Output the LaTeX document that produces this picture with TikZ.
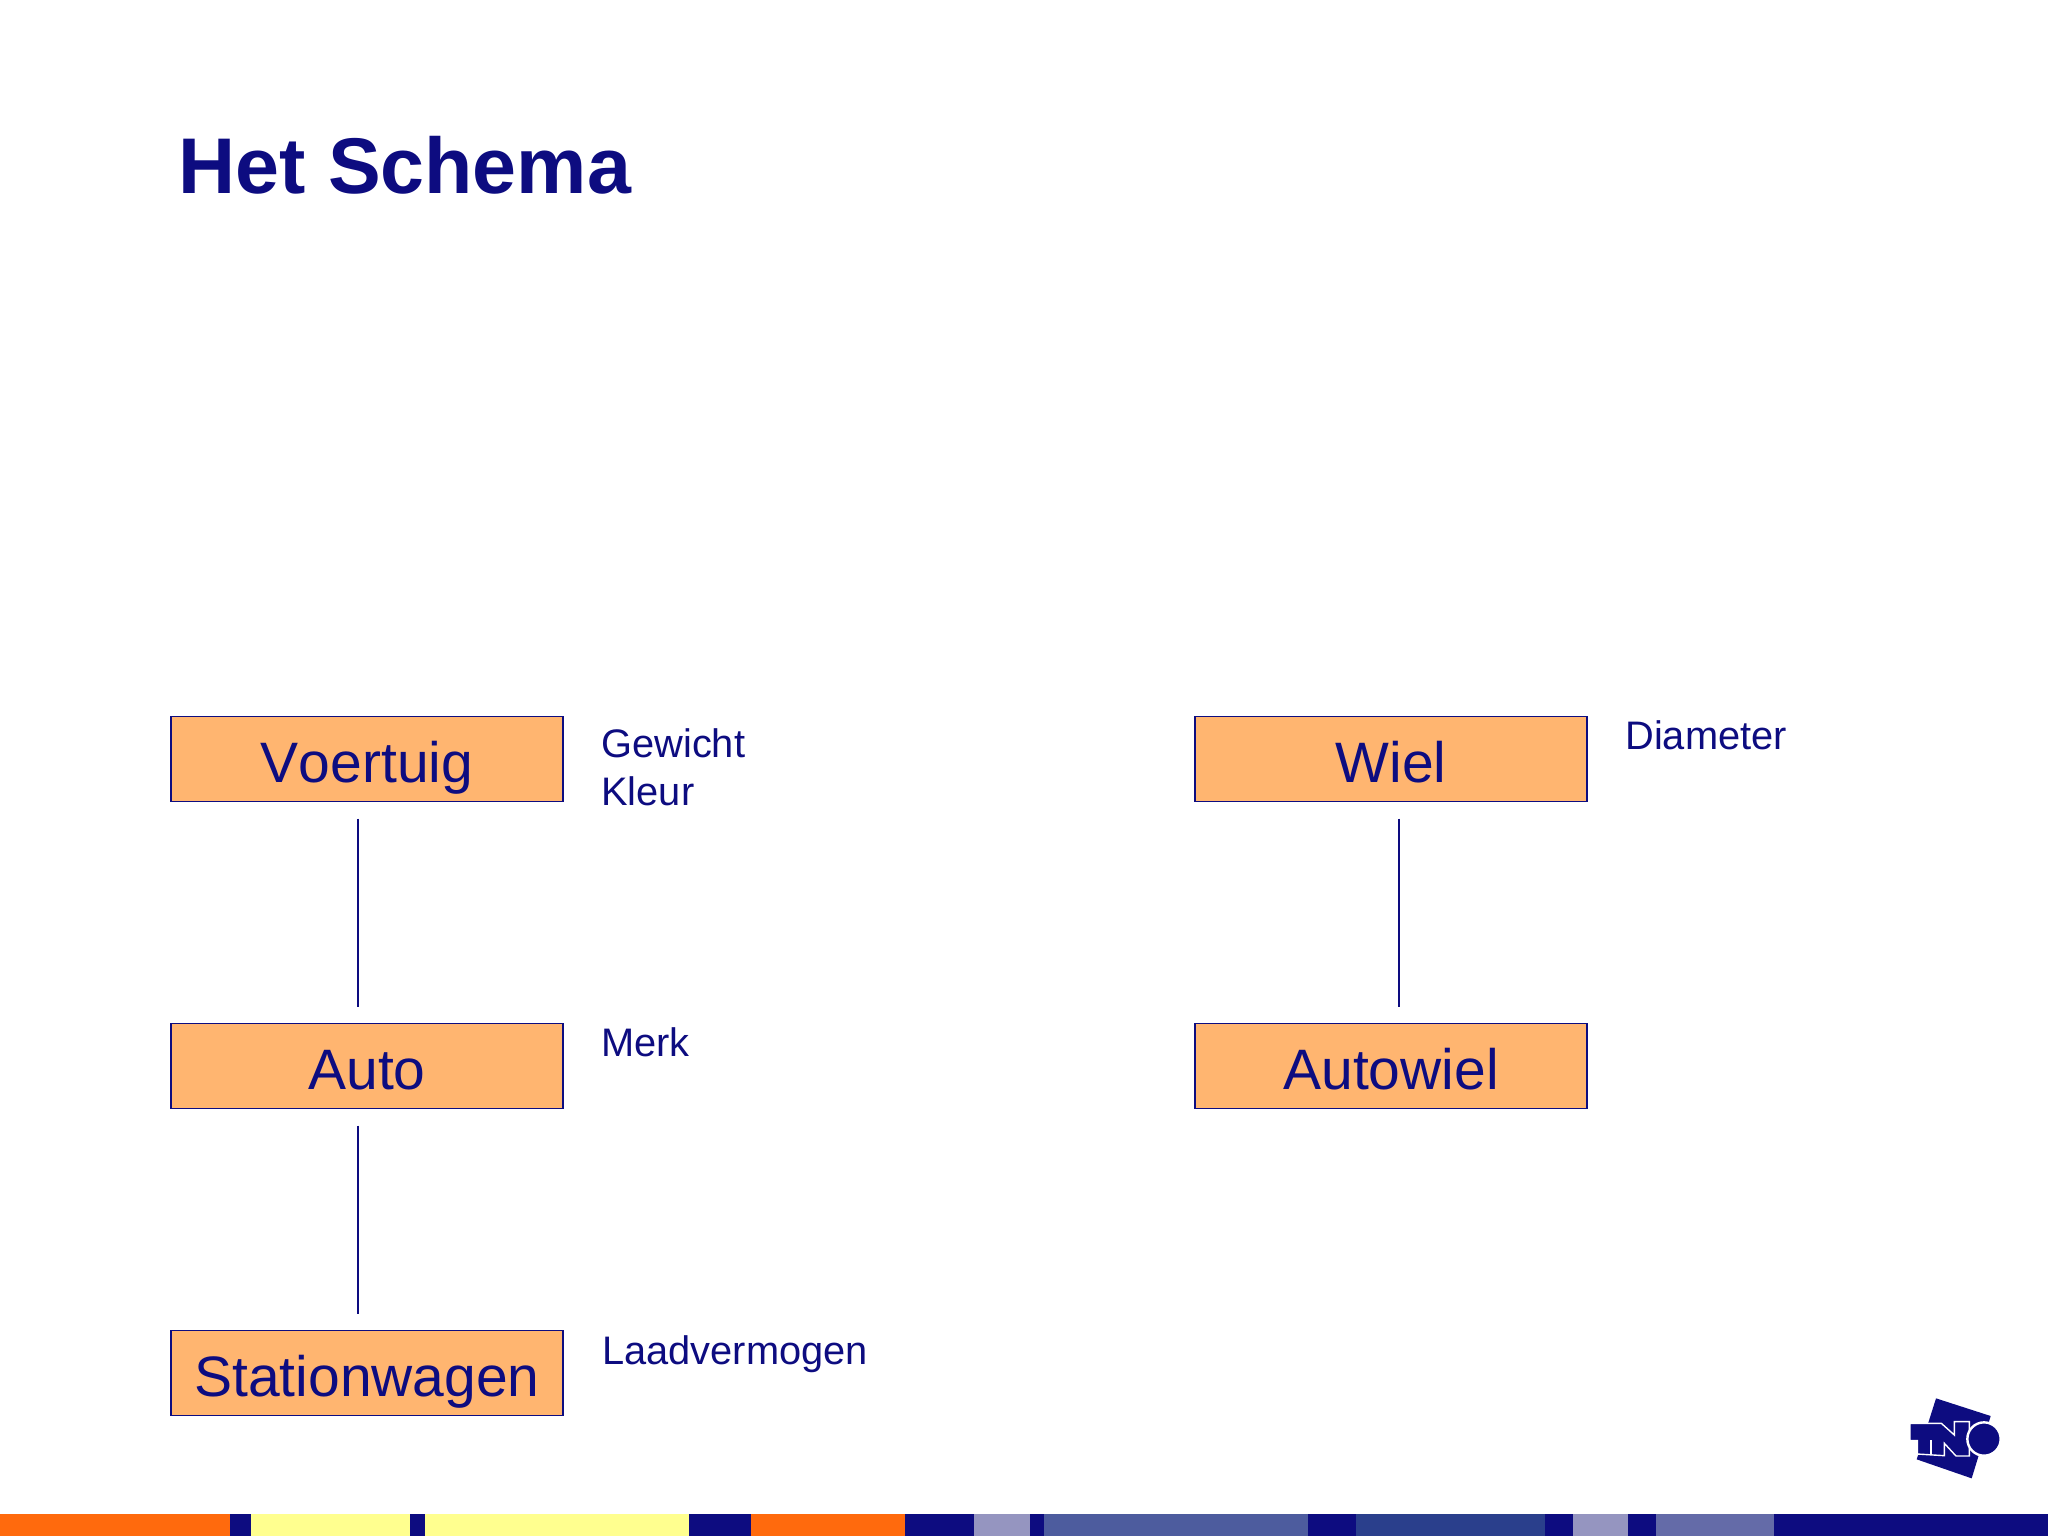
\documentclass[tikz,border=0pt]{standalone}
\usepackage{fontspec}
\setmainfont{Liberation Sans}[Kerning=Off]
\usepackage{tikz}
\usetikzlibrary{positioning}
\definecolor{tnoblauw}{HTML}{0D0C80}
\definecolor{tnooranje}{HTML}{FF6A0D}
\definecolor{tnogeel}{HTML}{FFFF8F}
\definecolor{tnolila}{HTML}{9595C0}
\definecolor{tnomid}{HTML}{4D5C9E}
\definecolor{tnodonker}{HTML}{2A3F8C}
\definecolor{tnozacht}{HTML}{646BA8}
\definecolor{klassevul}{HTML}{FFB570}

\begin{document}
\begin{tikzpicture}[x=0.5pt,y=-0.5pt,node distance=111pt,
  klasse/.style={draw=tnoblauw,line width=0.9pt,fill=klassevul,text=tnoblauw,
    minimum width=196pt,minimum height=42.5pt,inner sep=0pt,outer sep=0pt,
    text height=26pt,text depth=3pt,font=\fontsize{28.5}{34}\selectfont},
  kenmerk/.style={text=tnoblauw,inner sep=0pt,anchor=base west,
    font=\fontsize{19.9}{24}\selectfont},
  lijn/.style={draw=tnoblauw,line width=0.9pt,shorten >=8.5pt,shorten <=8.5pt}]
  \useasboundingbox (0,0) rectangle (2048,1536);
  \node[text=tnoblauw,inner sep=0pt,anchor=base west,font=\fontsize{39.5}{47}\selectfont\bfseries] (titel) at (178.5,193) {Het Schema};

  \node[klasse] (voertuig) at (367,759) {Voertuig};
  \node[klasse] (auto) [below = of voertuig] {Auto};
  \node[klasse] (stationwagen) [below = of auto] {Stationwagen};
  \node[klasse] (wiel) at (1391,759) {Wiel};
  \node[klasse] (autowiel) [below = of wiel] {Autowiel};

  \node[kenmerk] (gewicht) at ([xshift=19pt,yshift=-20.5pt]voertuig.north east) {Gewicht};
  \node[kenmerk] (kleur) at ([yshift=-24pt]gewicht.base west) {Kleur};
  \node[kenmerk] (merk) at ([xshift=19pt,yshift=-16.5pt]auto.north east) {Merk};
  \node[kenmerk] (laadvermogen) at ([xshift=19.5pt,yshift=-17pt]stationwagen.north east) {Laadvermogen};
  \node[kenmerk] (diameter) at ([xshift=19pt,yshift=-16.5pt]wiel.north east) {Diameter};

  \path[lijn]
  ([xshift=-4.5pt]voertuig.south) edge ([xshift=-4.5pt]auto.north)
  ([xshift=-4.5pt]auto.south) edge ([xshift=-4.5pt]stationwagen.north)
  ([xshift=4pt]wiel.south) edge ([xshift=4pt]autowiel.north)
  ;

  % balk onderaan
  \foreach \van/\tot/\kleur in {0/230/tnooranje,230/251/tnoblauw,251/410/tnogeel,
      410/425/tnoblauw,425/689/tnogeel,689/751/tnoblauw,751/905/tnooranje,
      905/974/tnoblauw,974/1030/tnolila,1030/1044/tnoblauw,1044/1308/tnomid,
      1308/1356/tnoblauw,1356/1545/tnodonker,1545/1573/tnoblauw,1573/1628/tnolila,
      1628/1656/tnoblauw,1656/1774/tnozacht,1774/2048/tnoblauw}
    \fill[\kleur] (\van,1514) rectangle (\tot,1536);

  % logo
  \begin{scope}[shift={(1860,1370)},x=0.16667pt,y=-0.16667pt]
    \fill[tnoblauw] (228,85) -- (392,138) -- (335,325) -- (170,268) -- cycle;
    \filldraw[tnoblauw,draw=white,line width=0.7pt] (150,160) -- (244,160) -- (283,195)
      -- (283,155) -- (328,155) -- (328,258) -- (288,258) -- (253,220) -- (253,257)
      -- (172,252) -- (172,212) -- (150,212) -- cycle;
    \draw[white,line width=0.7pt] (213,210) -- (213,254);
    \filldraw[tnoblauw,draw=white,line width=1.2pt] (372,207) circle [radius=50];
  \end{scope}
\end{tikzpicture}
\end{document}
